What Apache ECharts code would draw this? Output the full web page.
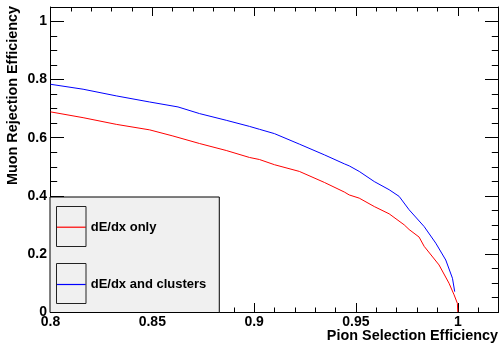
<!DOCTYPE html>
<html><head><meta charset="utf-8">
<script src="https://cdn.jsdelivr.net/npm/echarts@6/dist/echarts.min.js"></script>
<style>html,body{margin:0;padding:0;background:#fff}#c{width:499px;height:347px}</style>
</head><body><div id="c"></div>
<script>
const xTitle = 'Pion Selection Efficiency';
const yTitle = 'Muon Rejection Efficiency';
const seriesNames = ['dE/dx only', 'dE/dx and clusters'];
const xTicks = [0.8, 0.85, 0.9, 0.95, 1];
const yTicks = [0, 0.2, 0.4, 0.6, 0.8, 1];

const redX = [0.8, 0.816, 0.8323, 0.8487, 0.8601, 0.8732, 0.8863, 0.8977, 0.9026, 0.910, 0.9222, 0.9345, 0.9443, 0.9467, 0.9516, 0.959, 0.9663, 0.9737, 0.9761, 0.981, 0.9835, 0.9908, 0.9957, 0.9982, 0.9998, 1.0];
const redY = [0.689, 0.669, 0.646, 0.627, 0.606, 0.580, 0.556, 0.532, 0.525, 0.507, 0.484, 0.446, 0.413, 0.403, 0.392, 0.363, 0.338, 0.300, 0.284, 0.258, 0.226, 0.162, 0.099, 0.059, 0.030, 0.0];
const blueX = [0.8, 0.816, 0.8323, 0.8487, 0.8626, 0.8732, 0.8863, 0.8977, 0.9026, 0.910, 0.9222, 0.9345, 0.9443, 0.9467, 0.9516, 0.959, 0.9663, 0.9712, 0.9761, 0.9835, 0.9892, 0.9941, 0.9974, 0.9985];
const blueY = [0.784, 0.767, 0.744, 0.723, 0.706, 0.683, 0.660, 0.639, 0.629, 0.614, 0.578, 0.541, 0.510, 0.503, 0.484, 0.449, 0.421, 0.398, 0.352, 0.294, 0.237, 0.179, 0.116, 0.070];

const FONT = "'Liberation Sans', Arial, Helvetica, sans-serif";
const zip = (xs, ys) => xs.map((x, i) => [x, ys[i]]);
const isTick = (v, list) => list.some(t => Math.abs(t - v) < 1e-6);
const fmt = v => String(+v.toFixed(2));

function xAxis(pos, show) {
  return {
    type: 'value', position: pos, min: 0.8, max: 1.02, interval: 0.05,
    axisLine: { show: true, onZero: false, lineStyle: { color: '#000', width: 1 } },
    axisTick: { show: true, inside: true, length: 9, lineStyle: { color: '#000', width: 1 } },
    minorTick: { show: true, splitNumber: 5, length: 4.5, lineStyle: { color: '#000', width: 1 } },
    splitLine: { show: false }, minorSplitLine: { show: false },
    axisLabel: { show: show, margin: 3, color: '#000', fontFamily: FONT, fontWeight: 'bold', fontSize: 14,
      formatter: v => isTick(v, xTicks) ? fmt(v) : '' }
  };
}
function yAxis(pos, show) {
  return {
    type: 'value', position: pos, min: 0, max: 1.05, interval: 0.2,
    axisLine: { show: true, onZero: false, lineStyle: { color: '#000', width: 1 } },
    axisTick: { show: true, inside: true, length: 13.5, lineStyle: { color: '#000', width: 1 } },
    minorTick: { show: true, splitNumber: 4, length: 6.7, lineStyle: { color: '#000', width: 1 } },
    splitLine: { show: false }, minorSplitLine: { show: false },
    axisLabel: { show: show, margin: 3.5, color: '#000', fontFamily: FONT, fontWeight: 'bold', fontSize: 14,
      formatter: v => isTick(v, yTicks) ? fmt(v) : '' }
  };
}

const titleStyle = { fill: '#000', fontFamily: FONT, fontWeight: 'bold', fontSize: 14.4 };

const chart = echarts.init(document.getElementById('c'), null, { renderer: 'canvas' });
chart.setOption({
  animation: false,
  backgroundColor: '#fff',
  grid: { left: 50.5, right: 0.5, top: 7, bottom: 35, containLabel: false, outerBoundsMode: 'none' },
  xAxis: [xAxis('bottom', true), xAxis('top', false)],
  yAxis: [yAxis('left', true), yAxis('right', false)],
  legend: {
    data: seriesNames, left: 50, top: 197, orient: 'vertical',
    padding: [23.2, 13, 21, 6.7], itemGap: 43.3, itemWidth: 29, itemHeight: 1.2, icon: 'rect',
    selectedMode: false, backgroundColor: '#f0f0f0', borderColor: '#000', borderWidth: 1, borderRadius: 0,
    textStyle: { fontFamily: FONT, fontWeight: 'bold', fontSize: 13, lineHeight: 14, color: '#000' }
  },
  graphic: [
    { type: 'rect', z: 100, shape: { x: 56.5, y: 206.5, width: 29.5, height: 40 }, style: { fill: null, stroke: '#222', lineWidth: 1 } },
    { type: 'rect', z: 100, shape: { x: 56.5, y: 263.5, width: 29.5, height: 40 }, style: { fill: null, stroke: '#222', lineWidth: 1 } },
    { type: 'text', z: 100, x: 498, y: 336, style: Object.assign({ text: xTitle, align: 'right', verticalAlign: 'middle' }, titleStyle) },
    { type: 'text', z: 100, x: 13.5, y: 6, rotation: Math.PI / 2, style: Object.assign({ text: yTitle, align: 'right', verticalAlign: 'middle' }, titleStyle) }
  ],
  series: [
    { name: seriesNames[0], type: 'line', data: zip(redX, redY), showSymbol: false, symbol: 'none',
      lineStyle: { color: '#ff0000', width: 1 }, itemStyle: { color: '#ff0000' }, xAxisIndex: 0, yAxisIndex: 0 },
    { name: seriesNames[1], type: 'line', data: zip(blueX, blueY), showSymbol: false, symbol: 'none',
      lineStyle: { color: '#0000ff', width: 1 }, itemStyle: { color: '#0000ff' }, xAxisIndex: 0, yAxisIndex: 0 }
  ]
});
</script></body></html>
